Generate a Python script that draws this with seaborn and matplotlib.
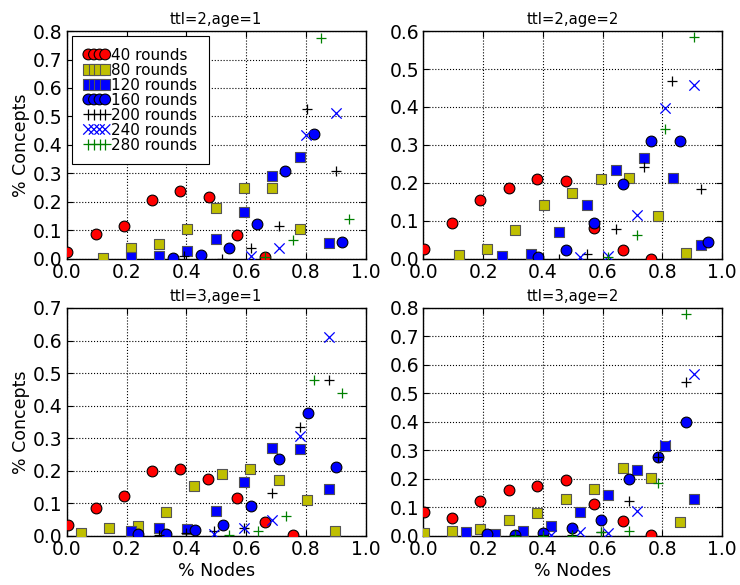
import numpy as np
import seaborn as sns
import matplotlib
matplotlib.use("Agg")
import matplotlib.pyplot as plt

rounds = [40, 80, 120, 160, 200, 240, 280]
labels = ["%d rounds" % r for r in rounds]
titles = ["ttl=2,age=1", "ttl=2,age=2", "ttl=3,age=1", "ttl=3,age=2"]
y_limits = [0.8, 0.6, 0.7, 0.8]

# (x values, y values) per series, one dict per panel
ttl2_age1 = {
    40: ([0.0, 0.097, 0.19, 0.285, 0.38, 0.475, 0.57, 0.663],
         [0.023, 0.087, 0.115, 0.208, 0.237, 0.217, 0.084, 0.008]),
    80: ([0.12, 0.216, 0.309, 0.403, 0.498, 0.592, 0.687, 0.781],
         [0.003, 0.038, 0.054, 0.104, 0.18, 0.25, 0.25, 0.104]),
    120: ([0.216, 0.309, 0.403, 0.498, 0.592, 0.687, 0.781, 0.876],
          [0.006, 0.012, 0.027, 0.071, 0.166, 0.292, 0.357, 0.055]),
    160: ([0.354, 0.449, 0.543, 0.637, 0.731, 0.829, 0.922],
          [0.002, 0.013, 0.04, 0.124, 0.31, 0.437, 0.058]),
    200: ([0.392, 0.52, 0.617, 0.709, 0.804, 0.9],
          [0.01, 0.0, 0.038, 0.117, 0.528, 0.309]),
    240: ([0.617, 0.711, 0.802, 0.9],
          [0.012, 0.038, 0.435, 0.511]),
    280: ([0.663, 0.756, 0.85, 0.944],
          [0.008, 0.068, 0.777, 0.14]),
}
ttl2_age2 = {
    40: ([0.002, 0.095, 0.19, 0.286, 0.381, 0.476, 0.572, 0.667, 0.762],
         [0.026, 0.094, 0.155, 0.188, 0.21, 0.204, 0.081, 0.023, 0.0]),
    80: ([0.118, 0.213, 0.308, 0.404, 0.499, 0.594, 0.689, 0.785, 0.88],
         [0.01, 0.026, 0.077, 0.143, 0.174, 0.21, 0.214, 0.113, 0.016]),
    120: ([0.263, 0.359, 0.454, 0.549, 0.645, 0.74, 0.835, 0.93],
          [0.007, 0.014, 0.07, 0.143, 0.235, 0.266, 0.213, 0.036]),
    160: ([0.383, 0.476, 0.572, 0.667, 0.762, 0.858, 0.953],
          [0.005, 0.023, 0.094, 0.198, 0.311, 0.31, 0.046]),
    200: ([0.453, 0.548, 0.644, 0.739, 0.834, 0.929],
          [0.0, 0.014, 0.078, 0.242, 0.468, 0.183]),
    240: ([0.524, 0.619, 0.714, 0.809, 0.905],
          [0.005, 0.009, 0.117, 0.398, 0.459]),
    280: ([0.619, 0.714, 0.809, 0.905],
          [0.005, 0.062, 0.343, 0.583]),
}
ttl3_age1 = {
    40: ([0.002, 0.097, 0.191, 0.286, 0.38, 0.474, 0.569, 0.663, 0.758],
         [0.033, 0.087, 0.123, 0.199, 0.206, 0.176, 0.118, 0.043, 0.002]),
    80: ([0.048, 0.142, 0.237, 0.331, 0.426, 0.52, 0.614, 0.709, 0.803, 0.898],
         [0.009, 0.024, 0.03, 0.074, 0.153, 0.189, 0.206, 0.173, 0.11, 0.014]),
    120: ([0.214, 0.309, 0.403, 0.498, 0.592, 0.687, 0.781, 0.876],
          [0.015, 0.026, 0.021, 0.077, 0.166, 0.27, 0.266, 0.143]),
    160: ([0.237, 0.331, 0.428, 0.522, 0.617, 0.711, 0.806, 0.9],
          [0.006, 0.006, 0.019, 0.033, 0.091, 0.237, 0.379, 0.211]),
    200: ([0.309, 0.4, 0.494, 0.594, 0.687, 0.781, 0.878],
          [0.002, 0.01, 0.014, 0.025, 0.132, 0.335, 0.48]),
    240: ([0.494, 0.594, 0.687, 0.781, 0.876],
          [0.005, 0.023, 0.048, 0.307, 0.611]),
    280: ([0.544, 0.639, 0.733, 0.828, 0.922],
          [0.002, 0.015, 0.06, 0.478, 0.44]),
}
ttl3_age2 = {
    40: ([0.002, 0.095, 0.19, 0.286, 0.381, 0.476, 0.572, 0.667, 0.762],
         [0.084, 0.064, 0.124, 0.162, 0.174, 0.197, 0.111, 0.054, 0.005]),
    80: ([0.002, 0.095, 0.19, 0.286, 0.381, 0.476, 0.572, 0.667, 0.762, 0.858],
         [0.01, 0.016, 0.026, 0.055, 0.08, 0.131, 0.166, 0.238, 0.203, 0.049]),
    120: ([0.142, 0.238, 0.333, 0.428, 0.524, 0.619, 0.714, 0.809, 0.905],
          [0.014, 0.008, 0.017, 0.035, 0.084, 0.145, 0.23, 0.315, 0.131]),
    160: ([0.212, 0.307, 0.402, 0.498, 0.594, 0.689, 0.785, 0.88],
          [0.007, 0.002, 0.012, 0.029, 0.057, 0.2, 0.276, 0.401]),
    200: ([0.307, 0.402, 0.498, 0.594, 0.689, 0.785, 0.88],
          [0.002, 0.002, 0.002, 0.014, 0.121, 0.276, 0.539]),
    240: ([0.428, 0.524, 0.619, 0.714, 0.809, 0.905],
          [0.002, 0.014, 0.012, 0.087, 0.32, 0.568]),
    280: ([0.307, 0.402, 0.498, 0.594, 0.689, 0.785, 0.88],
          [0.0, 0.0, 0.0, 0.014, 0.019, 0.185, 0.778]),
}
panels = [ttl2_age1, ttl2_age2, ttl3_age1, ttl3_age2]

styles = {
    40: dict(marker="o", color="#ff0000", edgecolor="k", s=60, linewidth=0.8),
    80: dict(marker="s", color="#bfbf00", edgecolor="#555555", s=55, linewidth=0.8),
    120: dict(marker="s", color="#0000ff", edgecolor="#555555", s=55, linewidth=0.8),
    160: dict(marker="o", color="#0000ff", edgecolor="k", s=60, linewidth=0.8),
    200: dict(marker="+", color="k", s=60, linewidth=0.9),
    240: dict(marker="x", color="#0000ff", s=55, linewidth=0.9),
    280: dict(marker="+", color="#008000", s=60, linewidth=0.9),
}

sns.set_style("white", {
    "axes.edgecolor": "black",
    "axes.labelcolor": "black",
    "text.color": "black",
    "xtick.color": "black",
    "ytick.color": "black",
    "axes.grid": True,
    "grid.color": "black",
    "grid.linestyle": ":",
    "xtick.direction": "in",
    "ytick.direction": "in",
    "xtick.top": True,
    "ytick.right": True,
    "xtick.bottom": True,
    "ytick.left": True,
})
plt.rcParams["font.family"] = ["DejaVu Sans"]
plt.rcParams["grid.linewidth"] = 0.8
plt.rcParams["axes.linewidth"] = 1.0

fig, axes = plt.subplots(2, 2, figsize=(7.4, 5.85), dpi=100)
fig.subplots_adjust(left=0.0905, right=0.9757, top=0.947, bottom=0.0838,
                    wspace=0.194, hspace=0.215)

for i, ax in enumerate(axes.flat):
    data = panels[i]
    for r, lab in zip(rounds, labels):
        xs, ys = data[r]
        sns.scatterplot(x=xs, y=ys, ax=ax, label=lab, legend=False,
                        zorder=3, **styles[r])
    ax.set_xlim(0, 1.0)
    ax.set_ylim(0, y_limits[i])
    ax.set_xticks(np.arange(0, 1.01, 0.2))
    ax.set_yticks(np.arange(0, y_limits[i] + 0.01, 0.1))
    ax.xaxis.set_major_formatter(matplotlib.ticker.FormatStrFormatter("%.1f"))
    ax.yaxis.set_major_formatter(matplotlib.ticker.FormatStrFormatter("%.1f"))
    ax.tick_params(labelsize=13.5, length=4, width=0.8, color="black",
                   labelcolor="black", pad=3)
    ax.set_title(titles[i], fontsize=10.7, pad=5, color="black")
    for sp in ax.spines.values():
        sp.set_visible(True)
        sp.set_color("black")
    ax.set_axisbelow(True)
    if i % 2 == 0:
        ax.set_ylabel("% Concepts", fontsize=12.5, labelpad=2, color="black")
    if i >= 2:
        ax.set_xlabel("% Nodes", fontsize=12.5, labelpad=2, color="black")

leg = axes[0, 0].legend(loc="upper left", scatterpoints=4, scatteryoffsets=[0.5],
                        handlelength=1.7, handletextpad=0.1, labelspacing=0.0,
                        borderpad=0.75, borderaxespad=0.35, fontsize=11,
                        fancybox=False, framealpha=1.0)
leg.get_frame().set_edgecolor("black")
leg.get_frame().set_linewidth(0.8)
for t in leg.get_texts():
    t.set_color("black")

fig.savefig("out.png", dpi=100)
